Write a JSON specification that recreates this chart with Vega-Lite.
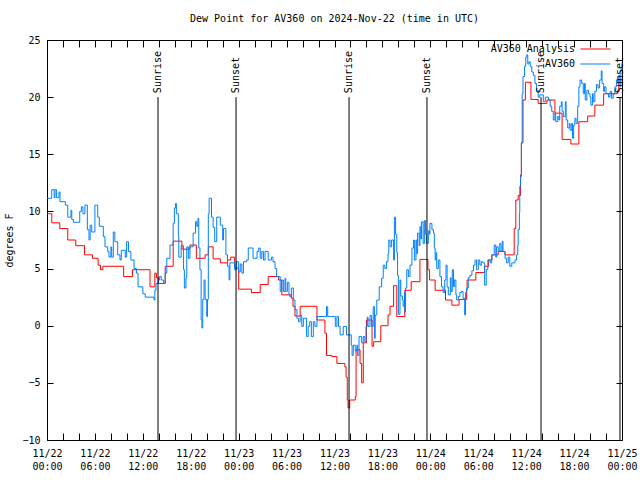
{
  "$schema": "https://vega.github.io/schema/vega-lite/v6.json",
  "width": 575,
  "height": 400,
  "autosize": {"type": "none"},
  "padding": {"left": 47, "top": 40, "right": 18, "bottom": 40},
  "background": "white",
  "config": {
    "view": {"stroke": "black", "strokeWidth": 1},
    "font": "DejaVu Sans Mono",
    "axis": {"labelFont": "DejaVu Sans Mono", "labelFontSize": 10, "labelColor": "black", "titleFont": "DejaVu Sans Mono", "titleFontSize": 10, "titleFontWeight": "normal", "titleColor": "black", "domain": false, "grid": false, "tickColor": "black", "tickWidth": 1},
    "legend": {"labelFont": "DejaVu Sans Mono", "labelFontSize": 10, "labelColor": "black"}
  },
  "title": {"text": "Dew Point for AV360 on 2024-Nov-22 (time in UTC)", "font": "DejaVu Sans Mono", "fontSize": 10, "fontWeight": "normal", "color": "black", "anchor": "middle", "offset": 11},
  "datasets": {
    "obs": [
      {"series": "AV360 Analysis", "hour": 0, "dewpoint": 9.8},
      {"series": "AV360 Analysis", "hour": 0.6, "dewpoint": 9.0},
      {"series": "AV360 Analysis", "hour": 1.6, "dewpoint": 8.5},
      {"series": "AV360 Analysis", "hour": 2.6, "dewpoint": 7.5},
      {"series": "AV360 Analysis", "hour": 3.6, "dewpoint": 7.0},
      {"series": "AV360 Analysis", "hour": 4.7, "dewpoint": 6.2},
      {"series": "AV360 Analysis", "hour": 5.7, "dewpoint": 5.9},
      {"series": "AV360 Analysis", "hour": 6.4, "dewpoint": 5.3},
      {"series": "AV360 Analysis", "hour": 6.7, "dewpoint": 4.9},
      {"series": "AV360 Analysis", "hour": 7.0, "dewpoint": 5.2},
      {"series": "AV360 Analysis", "hour": 9.6, "dewpoint": 4.3},
      {"series": "AV360 Analysis", "hour": 10.7, "dewpoint": 4.9},
      {"series": "AV360 Analysis", "hour": 12.9, "dewpoint": 3.4},
      {"series": "AV360 Analysis", "hour": 13.5, "dewpoint": 4.6},
      {"series": "AV360 Analysis", "hour": 13.7, "dewpoint": 4.2},
      {"series": "AV360 Analysis", "hour": 13.95, "dewpoint": 3.7},
      {"series": "AV360 Analysis", "hour": 14.8, "dewpoint": 5.2},
      {"series": "AV360 Analysis", "hour": 15.8, "dewpoint": 7.4},
      {"series": "AV360 Analysis", "hour": 16.9, "dewpoint": 6.7},
      {"series": "AV360 Analysis", "hour": 17.9, "dewpoint": 7.06},
      {"series": "AV360 Analysis", "hour": 18.7, "dewpoint": 5.9},
      {"series": "AV360 Analysis", "hour": 19.8, "dewpoint": 6.2},
      {"series": "AV360 Analysis", "hour": 20.2, "dewpoint": 6.9},
      {"series": "AV360 Analysis", "hour": 20.8, "dewpoint": 5.85},
      {"series": "AV360 Analysis", "hour": 21.7, "dewpoint": 5.5},
      {"series": "AV360 Analysis", "hour": 22.6, "dewpoint": 5.75},
      {"series": "AV360 Analysis", "hour": 23.0, "dewpoint": 6.0},
      {"series": "AV360 Analysis", "hour": 23.5, "dewpoint": 5.05},
      {"series": "AV360 Analysis", "hour": 24.0, "dewpoint": 3.2},
      {"series": "AV360 Analysis", "hour": 25.6, "dewpoint": 2.9},
      {"series": "AV360 Analysis", "hour": 26.7, "dewpoint": 3.6},
      {"series": "AV360 Analysis", "hour": 27.7, "dewpoint": 4.3},
      {"series": "AV360 Analysis", "hour": 29.0, "dewpoint": 4.0},
      {"series": "AV360 Analysis", "hour": 29.4, "dewpoint": 2.7},
      {"series": "AV360 Analysis", "hour": 30.6, "dewpoint": 2.4},
      {"series": "AV360 Analysis", "hour": 30.8, "dewpoint": 1.7},
      {"series": "AV360 Analysis", "hour": 31.05, "dewpoint": 0.85},
      {"series": "AV360 Analysis", "hour": 31.7, "dewpoint": 1.7},
      {"series": "AV360 Analysis", "hour": 33.8, "dewpoint": 0.5},
      {"series": "AV360 Analysis", "hour": 34.8, "dewpoint": -0.66},
      {"series": "AV360 Analysis", "hour": 35.0, "dewpoint": -2.6},
      {"series": "AV360 Analysis", "hour": 35.65, "dewpoint": -2.7},
      {"series": "AV360 Analysis", "hour": 36.3, "dewpoint": -3.3},
      {"series": "AV360 Analysis", "hour": 37.3, "dewpoint": -3.6},
      {"series": "AV360 Analysis", "hour": 37.45, "dewpoint": -4.5},
      {"series": "AV360 Analysis", "hour": 37.6, "dewpoint": -6.5},
      {"series": "AV360 Analysis", "hour": 37.7, "dewpoint": -7.2},
      {"series": "AV360 Analysis", "hour": 37.9, "dewpoint": -6.5},
      {"series": "AV360 Analysis", "hour": 38.6, "dewpoint": -6.2},
      {"series": "AV360 Analysis", "hour": 38.7, "dewpoint": -2.1},
      {"series": "AV360 Analysis", "hour": 39.2, "dewpoint": -3.3},
      {"series": "AV360 Analysis", "hour": 39.4, "dewpoint": -5.0},
      {"series": "AV360 Analysis", "hour": 39.6, "dewpoint": -1.5},
      {"series": "AV360 Analysis", "hour": 40.0, "dewpoint": 0.5},
      {"series": "AV360 Analysis", "hour": 40.7, "dewpoint": -1.8},
      {"series": "AV360 Analysis", "hour": 40.9, "dewpoint": -1.4},
      {"series": "AV360 Analysis", "hour": 41.8, "dewpoint": 0.0},
      {"series": "AV360 Analysis", "hour": 42.7, "dewpoint": 0.94},
      {"series": "AV360 Analysis", "hour": 42.95, "dewpoint": 1.7},
      {"series": "AV360 Analysis", "hour": 43.4, "dewpoint": 3.5},
      {"series": "AV360 Analysis", "hour": 43.8, "dewpoint": 0.8},
      {"series": "AV360 Analysis", "hour": 44.8, "dewpoint": 3.1},
      {"series": "AV360 Analysis", "hour": 45.6, "dewpoint": 3.85},
      {"series": "AV360 Analysis", "hour": 46.7, "dewpoint": 5.8},
      {"series": "AV360 Analysis", "hour": 47.7, "dewpoint": 4.9},
      {"series": "AV360 Analysis", "hour": 47.9, "dewpoint": 4.0},
      {"series": "AV360 Analysis", "hour": 48.6, "dewpoint": 3.1},
      {"series": "AV360 Analysis", "hour": 49.9, "dewpoint": 2.25},
      {"series": "AV360 Analysis", "hour": 50.7, "dewpoint": 1.8},
      {"series": "AV360 Analysis", "hour": 51.6, "dewpoint": 2.3},
      {"series": "AV360 Analysis", "hour": 52.55, "dewpoint": 3.1},
      {"series": "AV360 Analysis", "hour": 52.6, "dewpoint": 4.0},
      {"series": "AV360 Analysis", "hour": 53.7, "dewpoint": 4.65},
      {"series": "AV360 Analysis", "hour": 54.8, "dewpoint": 5.2},
      {"series": "AV360 Analysis", "hour": 55.3, "dewpoint": 5.75},
      {"series": "AV360 Analysis", "hour": 55.7, "dewpoint": 6.2},
      {"series": "AV360 Analysis", "hour": 56.5, "dewpoint": 6.5},
      {"series": "AV360 Analysis", "hour": 57.35, "dewpoint": 6.2},
      {"series": "AV360 Analysis", "hour": 58.5, "dewpoint": 8.5},
      {"series": "AV360 Analysis", "hour": 58.7, "dewpoint": 11.0},
      {"series": "AV360 Analysis", "hour": 59.0, "dewpoint": 11.4},
      {"series": "AV360 Analysis", "hour": 59.3, "dewpoint": 13.2},
      {"series": "AV360 Analysis", "hour": 59.4, "dewpoint": 16.0},
      {"series": "AV360 Analysis", "hour": 59.6, "dewpoint": 19.75},
      {"series": "AV360 Analysis", "hour": 59.9, "dewpoint": 21.3},
      {"series": "AV360 Analysis", "hour": 60.6, "dewpoint": 19.8},
      {"series": "AV360 Analysis", "hour": 61.5, "dewpoint": 19.45},
      {"series": "AV360 Analysis", "hour": 62.6, "dewpoint": 19.75},
      {"series": "AV360 Analysis", "hour": 63.6, "dewpoint": 18.6},
      {"series": "AV360 Analysis", "hour": 64.5, "dewpoint": 16.3},
      {"series": "AV360 Analysis", "hour": 65.6, "dewpoint": 15.9},
      {"series": "AV360 Analysis", "hour": 66.6, "dewpoint": 17.85},
      {"series": "AV360 Analysis", "hour": 67.7, "dewpoint": 18.35},
      {"series": "AV360 Analysis", "hour": 68.6, "dewpoint": 19.3},
      {"series": "AV360 Analysis", "hour": 69.7, "dewpoint": 20.3},
      {"series": "AV360 Analysis", "hour": 71.45, "dewpoint": 20.6},
      {"series": "AV360 Analysis", "hour": 71.6, "dewpoint": 21.5},
      {"series": "AV360 Analysis", "hour": 72.0, "dewpoint": 21.5},
      {"series": "AV360", "hour": 0, "dewpoint": 11.15},
      {"series": "AV360", "hour": 0.59, "dewpoint": 11.9},
      {"series": "AV360", "hour": 0.9, "dewpoint": 11.2},
      {"series": "AV360", "hour": 1.0, "dewpoint": 11.9},
      {"series": "AV360", "hour": 1.2, "dewpoint": 11.2},
      {"series": "AV360", "hour": 1.5, "dewpoint": 11.7},
      {"series": "AV360", "hour": 1.63, "dewpoint": 10.85},
      {"series": "AV360", "hour": 2.3, "dewpoint": 10.55},
      {"series": "AV360", "hour": 2.6, "dewpoint": 9.5},
      {"series": "AV360", "hour": 3.0, "dewpoint": 10.1},
      {"series": "AV360", "hour": 3.1, "dewpoint": 9.3},
      {"series": "AV360", "hour": 3.3, "dewpoint": 9.05},
      {"series": "AV360", "hour": 4.1, "dewpoint": 10.0},
      {"series": "AV360", "hour": 4.3, "dewpoint": 10.4},
      {"series": "AV360", "hour": 4.5, "dewpoint": 9.8},
      {"series": "AV360", "hour": 4.75, "dewpoint": 10.55},
      {"series": "AV360", "hour": 5.05, "dewpoint": 8.4},
      {"series": "AV360", "hour": 5.26, "dewpoint": 7.5},
      {"series": "AV360", "hour": 5.4, "dewpoint": 8.8},
      {"series": "AV360", "hour": 5.6, "dewpoint": 8.2},
      {"series": "AV360", "hour": 6.0, "dewpoint": 10.55},
      {"series": "AV360", "hour": 6.35, "dewpoint": 9.5},
      {"series": "AV360", "hour": 6.55, "dewpoint": 8.7},
      {"series": "AV360", "hour": 7.05, "dewpoint": 7.8},
      {"series": "AV360", "hour": 7.26, "dewpoint": 6.9},
      {"series": "AV360", "hour": 7.6, "dewpoint": 6.5},
      {"series": "AV360", "hour": 7.76, "dewpoint": 6.0},
      {"series": "AV360", "hour": 8.0, "dewpoint": 6.9},
      {"series": "AV360", "hour": 8.1, "dewpoint": 6.0},
      {"series": "AV360", "hour": 8.3, "dewpoint": 8.2},
      {"series": "AV360", "hour": 8.5, "dewpoint": 7.35},
      {"series": "AV360", "hour": 8.85, "dewpoint": 6.2},
      {"series": "AV360", "hour": 9.14, "dewpoint": 5.75},
      {"series": "AV360", "hour": 9.3, "dewpoint": 6.6},
      {"series": "AV360", "hour": 9.8, "dewpoint": 6.0},
      {"series": "AV360", "hour": 9.97, "dewpoint": 7.35},
      {"series": "AV360", "hour": 10.2, "dewpoint": 6.5},
      {"series": "AV360", "hour": 10.5, "dewpoint": 5.75},
      {"series": "AV360", "hour": 10.9, "dewpoint": 5.0},
      {"series": "AV360", "hour": 11.2, "dewpoint": 4.6},
      {"series": "AV360", "hour": 11.4, "dewpoint": 3.4},
      {"series": "AV360", "hour": 12.0, "dewpoint": 2.8},
      {"series": "AV360", "hour": 12.3, "dewpoint": 2.5},
      {"series": "AV360", "hour": 13.4, "dewpoint": 2.25},
      {"series": "AV360", "hour": 13.5, "dewpoint": 3.1},
      {"series": "AV360", "hour": 13.65, "dewpoint": 3.7},
      {"series": "AV360", "hour": 13.95, "dewpoint": 4.0},
      {"series": "AV360", "hour": 14.1, "dewpoint": 4.3},
      {"series": "AV360", "hour": 14.3, "dewpoint": 4.0},
      {"series": "AV360", "hour": 14.6, "dewpoint": 3.7},
      {"series": "AV360", "hour": 14.8, "dewpoint": 4.6},
      {"series": "AV360", "hour": 15.0, "dewpoint": 5.9},
      {"series": "AV360", "hour": 15.4, "dewpoint": 7.06},
      {"series": "AV360", "hour": 15.8, "dewpoint": 8.96},
      {"series": "AV360", "hour": 15.95, "dewpoint": 10.3},
      {"series": "AV360", "hour": 16.1, "dewpoint": 10.7},
      {"series": "AV360", "hour": 16.2, "dewpoint": 9.8},
      {"series": "AV360", "hour": 16.45, "dewpoint": 7.9},
      {"series": "AV360", "hour": 16.5, "dewpoint": 6.0},
      {"series": "AV360", "hour": 16.8, "dewpoint": 7.0},
      {"series": "AV360", "hour": 17.1, "dewpoint": 4.9},
      {"series": "AV360", "hour": 17.2, "dewpoint": 3.3},
      {"series": "AV360", "hour": 17.4, "dewpoint": 4.2},
      {"series": "AV360", "hour": 17.5, "dewpoint": 6.9},
      {"series": "AV360", "hour": 17.7, "dewpoint": 5.9},
      {"series": "AV360", "hour": 17.9, "dewpoint": 6.9},
      {"series": "AV360", "hour": 18.3, "dewpoint": 8.1},
      {"series": "AV360", "hour": 18.6, "dewpoint": 9.1},
      {"series": "AV360", "hour": 18.75, "dewpoint": 8.7},
      {"series": "AV360", "hour": 18.9, "dewpoint": 9.4},
      {"series": "AV360", "hour": 19.0, "dewpoint": 6.8},
      {"series": "AV360", "hour": 19.15, "dewpoint": 4.9},
      {"series": "AV360", "hour": 19.3, "dewpoint": 0.5},
      {"series": "AV360", "hour": 19.4, "dewpoint": -0.2},
      {"series": "AV360", "hour": 19.5, "dewpoint": 2.3},
      {"series": "AV360", "hour": 19.66, "dewpoint": 4.0},
      {"series": "AV360", "hour": 19.8, "dewpoint": 2.3},
      {"series": "AV360", "hour": 20.0, "dewpoint": 0.8},
      {"series": "AV360", "hour": 20.1, "dewpoint": 2.3},
      {"series": "AV360", "hour": 20.2, "dewpoint": 9.8},
      {"series": "AV360", "hour": 20.3, "dewpoint": 11.15},
      {"series": "AV360", "hour": 20.6, "dewpoint": 9.5},
      {"series": "AV360", "hour": 20.8, "dewpoint": 8.6},
      {"series": "AV360", "hour": 21.0, "dewpoint": 7.35},
      {"series": "AV360", "hour": 21.25, "dewpoint": 9.5},
      {"series": "AV360", "hour": 21.7, "dewpoint": 8.8},
      {"series": "AV360", "hour": 22.0, "dewpoint": 7.5},
      {"series": "AV360", "hour": 22.1, "dewpoint": 8.5},
      {"series": "AV360", "hour": 22.4, "dewpoint": 6.2},
      {"series": "AV360", "hour": 22.6, "dewpoint": 5.2},
      {"series": "AV360", "hour": 22.8, "dewpoint": 4.0},
      {"series": "AV360", "hour": 22.9, "dewpoint": 5.5},
      {"series": "AV360", "hour": 23.5, "dewpoint": 4.9},
      {"series": "AV360", "hour": 23.75, "dewpoint": 5.6},
      {"series": "AV360", "hour": 24.0, "dewpoint": 4.7},
      {"series": "AV360", "hour": 24.2, "dewpoint": 5.4},
      {"series": "AV360", "hour": 24.4, "dewpoint": 4.6},
      {"series": "AV360", "hour": 24.6, "dewpoint": 5.6},
      {"series": "AV360", "hour": 25.0, "dewpoint": 5.75},
      {"series": "AV360", "hour": 25.2, "dewpoint": 6.8},
      {"series": "AV360", "hour": 25.8, "dewpoint": 5.9},
      {"series": "AV360", "hour": 26.3, "dewpoint": 6.5},
      {"series": "AV360", "hour": 26.5, "dewpoint": 6.8},
      {"series": "AV360", "hour": 26.7, "dewpoint": 5.9},
      {"series": "AV360", "hour": 26.9, "dewpoint": 6.5},
      {"series": "AV360", "hour": 27.1, "dewpoint": 5.75},
      {"series": "AV360", "hour": 27.3, "dewpoint": 6.5},
      {"series": "AV360", "hour": 27.7, "dewpoint": 5.75},
      {"series": "AV360", "hour": 28.1, "dewpoint": 6.0},
      {"series": "AV360", "hour": 28.3, "dewpoint": 5.6},
      {"series": "AV360", "hour": 28.55, "dewpoint": 5.0},
      {"series": "AV360", "hour": 28.75, "dewpoint": 4.3},
      {"series": "AV360", "hour": 29.2, "dewpoint": 3.0},
      {"series": "AV360", "hour": 29.4, "dewpoint": 4.0},
      {"series": "AV360", "hour": 29.6, "dewpoint": 3.0},
      {"series": "AV360", "hour": 29.8, "dewpoint": 4.15},
      {"series": "AV360", "hour": 29.9, "dewpoint": 3.0},
      {"series": "AV360", "hour": 30.1, "dewpoint": 3.8},
      {"series": "AV360", "hour": 30.3, "dewpoint": 2.7},
      {"series": "AV360", "hour": 30.4, "dewpoint": 2.55},
      {"series": "AV360", "hour": 30.6, "dewpoint": 3.3},
      {"series": "AV360", "hour": 30.85, "dewpoint": 2.25},
      {"series": "AV360", "hour": 31.05, "dewpoint": 1.4},
      {"series": "AV360", "hour": 31.3, "dewpoint": 0.65},
      {"series": "AV360", "hour": 31.5, "dewpoint": 0.35},
      {"series": "AV360", "hour": 31.7, "dewpoint": 0.9},
      {"series": "AV360", "hour": 31.9, "dewpoint": -0.06},
      {"series": "AV360", "hour": 32.1, "dewpoint": 0.65},
      {"series": "AV360", "hour": 32.5, "dewpoint": -0.95},
      {"series": "AV360", "hour": 32.7, "dewpoint": -0.06},
      {"series": "AV360", "hour": 32.9, "dewpoint": 0.35},
      {"series": "AV360", "hour": 33.1, "dewpoint": -0.95},
      {"series": "AV360", "hour": 33.35, "dewpoint": 0.35},
      {"series": "AV360", "hour": 33.55, "dewpoint": -0.06},
      {"series": "AV360", "hour": 33.8, "dewpoint": 0.8},
      {"series": "AV360", "hour": 35.0, "dewpoint": 1.67},
      {"series": "AV360", "hour": 35.15, "dewpoint": 0.8},
      {"series": "AV360", "hour": 36.1, "dewpoint": -0.06},
      {"series": "AV360", "hour": 36.3, "dewpoint": 0.8},
      {"series": "AV360", "hour": 36.5, "dewpoint": -0.06},
      {"series": "AV360", "hour": 36.7, "dewpoint": -0.8},
      {"series": "AV360", "hour": 37.1, "dewpoint": -0.06},
      {"series": "AV360", "hour": 37.5, "dewpoint": -0.8},
      {"series": "AV360", "hour": 38.1, "dewpoint": -1.7},
      {"series": "AV360", "hour": 38.2, "dewpoint": -2.6},
      {"series": "AV360", "hour": 38.35, "dewpoint": -1.7},
      {"series": "AV360", "hour": 38.6, "dewpoint": -2.2},
      {"series": "AV360", "hour": 38.8, "dewpoint": -1.7},
      {"series": "AV360", "hour": 38.9, "dewpoint": -2.6},
      {"series": "AV360", "hour": 39.07, "dewpoint": -0.95},
      {"series": "AV360", "hour": 39.4, "dewpoint": -1.5},
      {"series": "AV360", "hour": 39.6, "dewpoint": -0.95},
      {"series": "AV360", "hour": 39.8, "dewpoint": -1.4},
      {"series": "AV360", "hour": 39.95, "dewpoint": -0.06},
      {"series": "AV360", "hour": 40.1, "dewpoint": 0.75},
      {"series": "AV360", "hour": 40.2, "dewpoint": -0.06},
      {"series": "AV360", "hour": 40.45, "dewpoint": 0.9},
      {"series": "AV360", "hour": 40.65, "dewpoint": -0.06},
      {"series": "AV360", "hour": 40.85, "dewpoint": 1.67},
      {"series": "AV360", "hour": 41.0, "dewpoint": -1.1},
      {"series": "AV360", "hour": 41.1, "dewpoint": 0.94},
      {"series": "AV360", "hour": 41.3, "dewpoint": 2.25},
      {"series": "AV360", "hour": 41.6, "dewpoint": 3.4},
      {"series": "AV360", "hour": 41.9, "dewpoint": 4.15},
      {"series": "AV360", "hour": 42.1, "dewpoint": 5.3},
      {"series": "AV360", "hour": 42.3, "dewpoint": 5.0},
      {"series": "AV360", "hour": 42.5, "dewpoint": 5.6},
      {"series": "AV360", "hour": 42.7, "dewpoint": 6.3},
      {"series": "AV360", "hour": 42.8, "dewpoint": 7.5},
      {"series": "AV360", "hour": 42.95, "dewpoint": 6.9},
      {"series": "AV360", "hour": 43.15, "dewpoint": 7.5},
      {"series": "AV360", "hour": 43.4, "dewpoint": 5.75},
      {"series": "AV360", "hour": 43.5, "dewpoint": 9.5},
      {"series": "AV360", "hour": 43.65, "dewpoint": 8.0},
      {"series": "AV360", "hour": 43.8, "dewpoint": 6.4},
      {"series": "AV360", "hour": 43.9, "dewpoint": 4.4},
      {"series": "AV360", "hour": 44.0, "dewpoint": 1.0},
      {"series": "AV360", "hour": 44.2, "dewpoint": 4.0},
      {"series": "AV360", "hour": 44.3, "dewpoint": 2.6},
      {"series": "AV360", "hour": 44.5, "dewpoint": 2.25},
      {"series": "AV360", "hour": 44.6, "dewpoint": 1.7},
      {"series": "AV360", "hour": 44.75, "dewpoint": 2.9},
      {"series": "AV360", "hour": 44.8, "dewpoint": 1.2},
      {"series": "AV360", "hour": 44.9, "dewpoint": 3.3},
      {"series": "AV360", "hour": 45.05, "dewpoint": 4.9},
      {"series": "AV360", "hour": 45.25, "dewpoint": 4.3},
      {"series": "AV360", "hour": 45.45, "dewpoint": 5.3},
      {"series": "AV360", "hour": 45.7, "dewpoint": 6.8},
      {"series": "AV360", "hour": 45.9, "dewpoint": 7.5},
      {"series": "AV360", "hour": 46.0, "dewpoint": 5.75},
      {"series": "AV360", "hour": 46.2, "dewpoint": 7.5},
      {"series": "AV360", "hour": 46.3, "dewpoint": 6.3},
      {"series": "AV360", "hour": 46.4, "dewpoint": 8.1},
      {"series": "AV360", "hour": 46.6, "dewpoint": 7.0},
      {"series": "AV360", "hour": 46.7, "dewpoint": 8.67},
      {"series": "AV360", "hour": 46.8, "dewpoint": 7.6},
      {"series": "AV360", "hour": 46.9, "dewpoint": 9.1},
      {"series": "AV360", "hour": 47.1, "dewpoint": 7.2},
      {"series": "AV360", "hour": 47.25, "dewpoint": 9.2},
      {"series": "AV360", "hour": 47.4, "dewpoint": 8.0},
      {"series": "AV360", "hour": 47.5, "dewpoint": 7.2},
      {"series": "AV360", "hour": 47.75, "dewpoint": 8.3},
      {"series": "AV360", "hour": 47.9, "dewpoint": 8.0},
      {"series": "AV360", "hour": 47.95, "dewpoint": 8.95},
      {"series": "AV360", "hour": 48.2, "dewpoint": 8.4},
      {"series": "AV360", "hour": 48.4, "dewpoint": 8.1},
      {"series": "AV360", "hour": 48.5, "dewpoint": 6.8},
      {"series": "AV360", "hour": 48.6, "dewpoint": 5.75},
      {"series": "AV360", "hour": 48.7, "dewpoint": 6.4},
      {"series": "AV360", "hour": 48.8, "dewpoint": 5.0},
      {"series": "AV360", "hour": 49.0, "dewpoint": 5.75},
      {"series": "AV360", "hour": 49.2, "dewpoint": 4.3},
      {"series": "AV360", "hour": 49.4, "dewpoint": 3.4},
      {"series": "AV360", "hour": 49.6, "dewpoint": 2.9},
      {"series": "AV360", "hour": 49.8, "dewpoint": 4.0},
      {"series": "AV360", "hour": 49.96, "dewpoint": 5.3},
      {"series": "AV360", "hour": 50.1, "dewpoint": 3.4},
      {"series": "AV360", "hour": 50.25, "dewpoint": 2.7},
      {"series": "AV360", "hour": 50.5, "dewpoint": 4.2},
      {"series": "AV360", "hour": 50.6, "dewpoint": 3.0},
      {"series": "AV360", "hour": 50.75, "dewpoint": 4.9},
      {"series": "AV360", "hour": 50.9, "dewpoint": 3.4},
      {"series": "AV360", "hour": 51.0, "dewpoint": 4.0},
      {"series": "AV360", "hour": 51.2, "dewpoint": 2.7},
      {"series": "AV360", "hour": 51.3, "dewpoint": 2.25},
      {"series": "AV360", "hour": 51.5, "dewpoint": 2.55},
      {"series": "AV360", "hour": 51.7, "dewpoint": 2.9},
      {"series": "AV360", "hour": 51.9, "dewpoint": 3.0},
      {"series": "AV360", "hour": 52.1, "dewpoint": 2.4},
      {"series": "AV360", "hour": 52.3, "dewpoint": 0.94},
      {"series": "AV360", "hour": 52.4, "dewpoint": 2.9},
      {"series": "AV360", "hour": 52.55, "dewpoint": 3.3},
      {"series": "AV360", "hour": 52.75, "dewpoint": 4.2},
      {"series": "AV360", "hour": 52.95, "dewpoint": 4.4},
      {"series": "AV360", "hour": 53.2, "dewpoint": 4.8},
      {"series": "AV360", "hour": 53.4, "dewpoint": 5.3},
      {"series": "AV360", "hour": 53.6, "dewpoint": 5.75},
      {"series": "AV360", "hour": 53.8, "dewpoint": 4.9},
      {"series": "AV360", "hour": 54.0, "dewpoint": 5.75},
      {"series": "AV360", "hour": 54.2, "dewpoint": 5.3},
      {"series": "AV360", "hour": 54.4, "dewpoint": 5.6},
      {"series": "AV360", "hour": 54.6, "dewpoint": 5.5},
      {"series": "AV360", "hour": 54.8, "dewpoint": 3.55},
      {"series": "AV360", "hour": 55.0, "dewpoint": 4.9},
      {"series": "AV360", "hour": 55.2, "dewpoint": 5.75},
      {"series": "AV360", "hour": 55.5, "dewpoint": 5.5},
      {"series": "AV360", "hour": 55.7, "dewpoint": 6.2},
      {"series": "AV360", "hour": 56.0, "dewpoint": 7.06},
      {"series": "AV360", "hour": 56.2, "dewpoint": 6.0},
      {"series": "AV360", "hour": 56.3, "dewpoint": 6.9},
      {"series": "AV360", "hour": 56.5, "dewpoint": 6.5},
      {"series": "AV360", "hour": 56.7, "dewpoint": 7.2},
      {"series": "AV360", "hour": 56.85, "dewpoint": 6.5},
      {"series": "AV360", "hour": 57.0, "dewpoint": 7.4},
      {"series": "AV360", "hour": 57.1, "dewpoint": 6.5},
      {"series": "AV360", "hour": 57.35, "dewpoint": 5.9},
      {"series": "AV360", "hour": 57.55, "dewpoint": 5.5},
      {"series": "AV360", "hour": 57.75, "dewpoint": 6.0},
      {"series": "AV360", "hour": 57.95, "dewpoint": 5.2},
      {"series": "AV360", "hour": 58.2, "dewpoint": 5.5},
      {"series": "AV360", "hour": 58.6, "dewpoint": 5.75},
      {"series": "AV360", "hour": 58.8, "dewpoint": 6.2},
      {"series": "AV360", "hour": 58.95, "dewpoint": 7.06},
      {"series": "AV360", "hour": 59.0, "dewpoint": 8.4},
      {"series": "AV360", "hour": 59.15, "dewpoint": 9.9},
      {"series": "AV360", "hour": 59.2, "dewpoint": 12.2},
      {"series": "AV360", "hour": 59.3, "dewpoint": 13.05},
      {"series": "AV360", "hour": 59.4, "dewpoint": 16.0},
      {"series": "AV360", "hour": 59.5, "dewpoint": 20.3},
      {"series": "AV360", "hour": 59.6, "dewpoint": 21.8},
      {"series": "AV360", "hour": 59.8, "dewpoint": 22.7},
      {"series": "AV360", "hour": 59.95, "dewpoint": 23.5},
      {"series": "AV360", "hour": 60.07, "dewpoint": 23.7},
      {"series": "AV360", "hour": 60.2, "dewpoint": 22.9},
      {"series": "AV360", "hour": 60.35, "dewpoint": 23.1},
      {"series": "AV360", "hour": 60.5, "dewpoint": 22.7},
      {"series": "AV360", "hour": 60.7, "dewpoint": 22.2},
      {"series": "AV360", "hour": 60.9, "dewpoint": 21.9},
      {"series": "AV360", "hour": 61.1, "dewpoint": 21.2},
      {"series": "AV360", "hour": 61.3, "dewpoint": 20.6},
      {"series": "AV360", "hour": 61.5, "dewpoint": 20.0},
      {"series": "AV360", "hour": 61.7, "dewpoint": 20.2},
      {"series": "AV360", "hour": 62.15, "dewpoint": 19.6},
      {"series": "AV360", "hour": 62.4, "dewpoint": 20.0},
      {"series": "AV360", "hour": 62.8, "dewpoint": 19.75},
      {"series": "AV360", "hour": 63.0, "dewpoint": 19.2},
      {"series": "AV360", "hour": 63.2, "dewpoint": 18.75},
      {"series": "AV360", "hour": 63.4, "dewpoint": 18.0},
      {"series": "AV360", "hour": 63.6, "dewpoint": 18.6},
      {"series": "AV360", "hour": 63.7, "dewpoint": 17.85},
      {"series": "AV360", "hour": 63.95, "dewpoint": 18.3},
      {"series": "AV360", "hour": 64.1, "dewpoint": 18.0},
      {"series": "AV360", "hour": 64.2, "dewpoint": 19.2},
      {"series": "AV360", "hour": 64.4, "dewpoint": 19.6},
      {"series": "AV360", "hour": 64.5, "dewpoint": 18.75},
      {"series": "AV360", "hour": 64.65, "dewpoint": 18.3},
      {"series": "AV360", "hour": 64.9, "dewpoint": 19.6},
      {"series": "AV360", "hour": 65.0, "dewpoint": 18.0},
      {"series": "AV360", "hour": 65.2, "dewpoint": 17.3},
      {"series": "AV360", "hour": 65.4, "dewpoint": 17.7},
      {"series": "AV360", "hour": 65.5, "dewpoint": 17.1},
      {"series": "AV360", "hour": 65.7, "dewpoint": 17.7},
      {"series": "AV360", "hour": 65.8, "dewpoint": 16.4},
      {"series": "AV360", "hour": 65.95, "dewpoint": 17.55},
      {"series": "AV360", "hour": 66.1, "dewpoint": 18.15},
      {"series": "AV360", "hour": 66.25, "dewpoint": 17.7},
      {"series": "AV360", "hour": 66.45, "dewpoint": 19.2},
      {"series": "AV360", "hour": 66.6, "dewpoint": 20.9},
      {"series": "AV360", "hour": 66.75, "dewpoint": 21.5},
      {"series": "AV360", "hour": 66.95, "dewpoint": 21.2},
      {"series": "AV360", "hour": 67.15, "dewpoint": 20.3},
      {"series": "AV360", "hour": 67.3, "dewpoint": 21.2},
      {"series": "AV360", "hour": 67.4, "dewpoint": 19.75},
      {"series": "AV360", "hour": 67.6, "dewpoint": 20.6},
      {"series": "AV360", "hour": 67.8, "dewpoint": 20.3},
      {"series": "AV360", "hour": 68.0, "dewpoint": 20.0},
      {"series": "AV360", "hour": 68.1, "dewpoint": 19.3},
      {"series": "AV360", "hour": 68.3, "dewpoint": 20.3},
      {"series": "AV360", "hour": 68.4, "dewpoint": 19.6},
      {"series": "AV360", "hour": 68.6, "dewpoint": 20.5},
      {"series": "AV360", "hour": 68.8, "dewpoint": 21.1},
      {"series": "AV360", "hour": 69.0, "dewpoint": 20.8},
      {"series": "AV360", "hour": 69.2, "dewpoint": 21.5},
      {"series": "AV360", "hour": 69.4, "dewpoint": 22.3},
      {"series": "AV360", "hour": 69.5, "dewpoint": 21.2},
      {"series": "AV360", "hour": 69.7, "dewpoint": 20.5},
      {"series": "AV360", "hour": 69.8, "dewpoint": 20.9},
      {"series": "AV360", "hour": 70.0, "dewpoint": 20.3},
      {"series": "AV360", "hour": 70.3, "dewpoint": 20.0},
      {"series": "AV360", "hour": 70.5, "dewpoint": 20.5},
      {"series": "AV360", "hour": 70.7, "dewpoint": 19.9},
      {"series": "AV360", "hour": 70.9, "dewpoint": 20.3},
      {"series": "AV360", "hour": 71.1, "dewpoint": 20.9},
      {"series": "AV360", "hour": 71.3, "dewpoint": 21.5},
      {"series": "AV360", "hour": 71.45, "dewpoint": 21.2},
      {"series": "AV360", "hour": 71.6, "dewpoint": 21.9},
      {"series": "AV360", "hour": 71.75, "dewpoint": 20.9},
      {"series": "AV360", "hour": 71.85, "dewpoint": 22.4},
      {"series": "AV360", "hour": 72.0, "dewpoint": 23.0}
    ],
    "sun": [
      {"event": "Sunrise", "hour": 13.9},
      {"event": "Sunset", "hour": 23.67},
      {"event": "Sunrise", "hour": 37.82},
      {"event": "Sunset", "hour": 47.58},
      {"event": "Sunrise", "hour": 61.86},
      {"event": "Sunset", "hour": 71.75}
    ]
  },
  "layer": [
    {
      "data": {"name": "obs"},
      "mark": {"type": "line", "interpolate": "step-after", "strokeWidth": 1},
      "encoding": {
        "x": {
          "field": "hour", "type": "quantitative",
          "scale": {"domain": [0, 72], "nice": false, "zero": false},
          "axis": {
            "orient": "bottom", "title": null,
            "values": [0,2,4,6,8,10,12,14,16,18,20,22,24,26,28,30,32,34,36,38,40,42,44,46,48,50,52,54,56,58,60,62,64,66,68,70,72],
            "tickSize": -7, "labelPadding": 15, "labelLineHeight": 13,
            "labelOverlap": false, "labelFlush": false, "labelBound": false,
            "labelExpr": "datum.value % 6 === 0 ? ['11/' + (22 + floor(datum.value / 24)), ((datum.value % 24) < 10 ? '0' : '') + (datum.value % 24) + ':00'] : ''",
            "encode": {"ticks": {"update": {"y2": {"signal": "datum.value % 6 === 0 ? -7 : -4"}}}}
          }
        },
        "y": {
          "field": "dewpoint", "type": "quantitative",
          "scale": {"domain": [-10, 25], "nice": false, "zero": false},
          "axis": {
            "orient": "left", "title": "degrees F", "titlePadding": 7,
            "values": [-10, -5, 0, 5, 10, 15, 20, 25],
            "tickSize": -6, "labelPadding": 13, "labelOverlap": false, "labelFlush": false, "labelBound": false
          }
        },
        "color": {
          "field": "series", "type": "nominal",
          "scale": {"domain": ["AV360 Analysis", "AV360"], "range": ["#ff0000", "#0080ff"]},
          "legend": {
            "orient": "none", "legendX": 543, "legendY": 3.5, "title": null,
            "padding": 0, "rowPadding": 4,
            "symbolType": "M-3,0L3,0", "symbolSize": 100, "symbolStrokeWidth": 1, "symbolOpacity": 1,
            "labelFont": "DejaVu Sans Mono", "labelFontSize": 10,
            "encode": {"labels": {"update": {"x": {"value": -15}, "align": {"value": "right"}}}}
          }
        }
      }
    },
    {
      "data": {"name": "sun"},
      "mark": {"type": "rule", "color": "black", "strokeWidth": 1},
      "encoding": {
        "x": {
          "field": "hour", "type": "quantitative",
          "axis": {
            "orient": "top", "title": null, "labels": false,
            "values": [0,2,4,6,8,10,12,14,16,18,20,22,24,26,28,30,32,34,36,38,40,42,44,46,48,50,52,54,56,58,60,62,64,66,68,70,72],
            "tickSize": -7,
            "encode": {"ticks": {"update": {"y2": {"signal": "datum.value % 6 === 0 ? 7 : 4"}}}}
          }
        },
        "y": {
          "datum": -10, "type": "quantitative",
          "axis": {"orient": "right", "title": null, "labels": false, "values": [-10, -5, 0, 5, 10, 15, 20, 25], "tickSize": -6}
        },
        "y2": {"datum": 20}
      }
    },
    {
      "data": {"name": "sun"},
      "mark": {"type": "text", "angle": 270, "align": "left", "baseline": "middle", "font": "DejaVu Sans Mono", "fontSize": 10, "color": "black"},
      "encoding": {
        "x": {"field": "hour", "type": "quantitative", "axis": null},
        "y": {"datum": 20.35, "type": "quantitative", "axis": null},
        "text": {"field": "event"}
      }
    }
  ],
  "resolve": {"axis": {"x": "independent", "y": "independent"}}
}
